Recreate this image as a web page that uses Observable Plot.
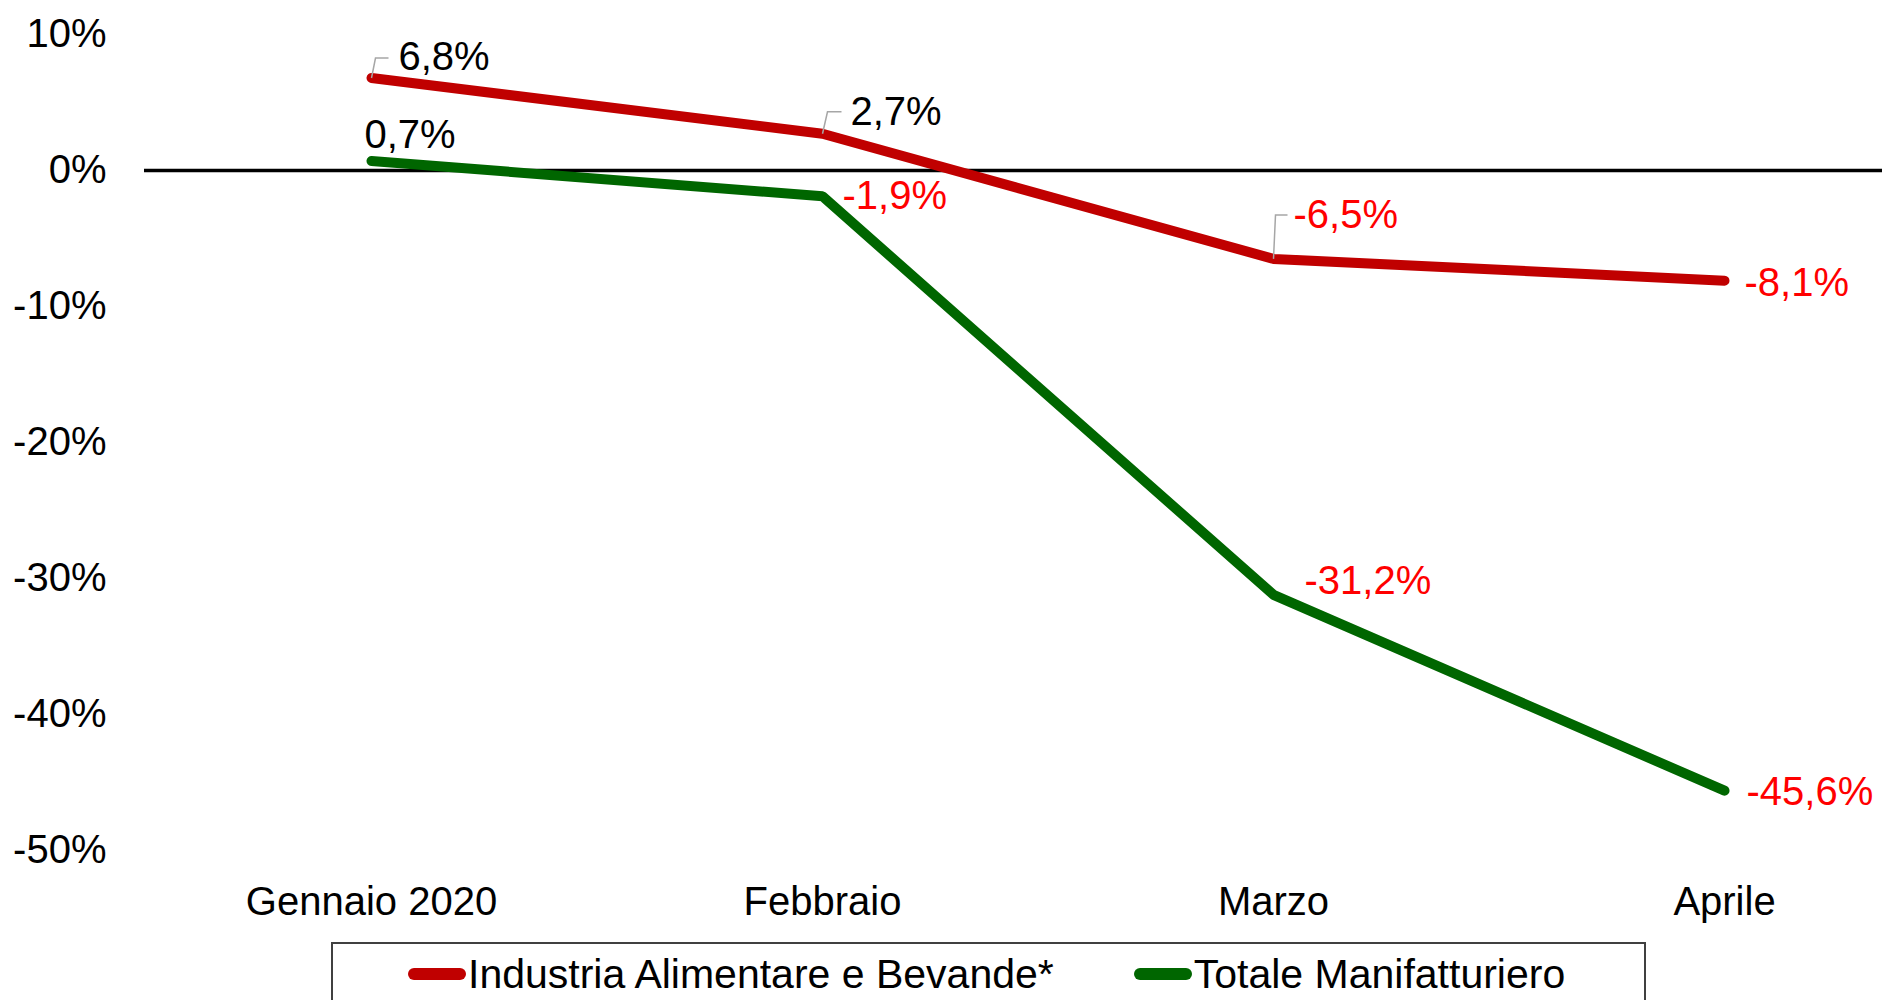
<!DOCTYPE html>
<html>
<head>
<meta charset="utf-8">
<script src="https://cdn.jsdelivr.net/npm/d3@7"></script>
<script src="https://cdn.jsdelivr.net/npm/@observablehq/plot@0.6"></script>
<style>
  html, body { margin: 0; padding: 0; background: #fff; overflow: hidden; }
  body { width: 1882px; height: 1000px; font-family: "Liberation Sans", Arial, sans-serif; }
  #chart svg { display: block; }
  #legend {
    box-sizing: border-box;
    margin-left: 331px; margin-top: 2px;
    width: 1315px; height: 90px;
    border: 2px solid #404040;
    display: flex; align-items: flex-start;
    padding-left: 75px; padding-top: 10px;
    gap: 80px;
    font-size: 41px; line-height: 40px; color: #000;
  }
  .item { display: flex; align-items: center; }
  .sw { width: 58px; height: 12px; border-radius: 6px; margin-right: 2px; }
</style>
</head>
<body>
<div id="chart"></div>
<div id="legend"></div>
<script>
const months = ["Gennaio 2020", "Febbraio", "Marzo", "Aprile"];
const seriesNames = ["Industria Alimentare e Bevande*", "Totale Manifatturiero"];
const industria = [6.8, 2.7, -6.5, -8.1];
const totale = [0.7, -1.9, -31.2, -45.6];
const yTicks = [10, 0, -10, -20, -30, -40, -50];
const lineColors = ["#C00000", "#006600"];

const data = [];
months.forEach((m, i) => data.push({series: seriesNames[0], month: m, value: industria[i]}));
months.forEach((m, i) => data.push({series: seriesNames[1], month: m, value: totale[i]}));

const fmt = v => v.toFixed(1).replace(".", ",") + "%";
const pick = (s, m) => data.filter(d => d.series === seriesNames[s] && d.month === months[m]);

function label(s, m, dx, dy, anchor = "start") {
  return Plot.text(pick(s, m), {
    x: "month", y: "value", text: d => fmt(d.value),
    fill: d => d.value < 0 ? "#FF0000" : "#000000",
    dx, dy, textAnchor: anchor, fontSize: 40
  });
}
function leader(s, m, h, slant, w) {
  const sym = {draw(ctx) { ctx.moveTo(0, 0); ctx.lineTo(slant, -h); ctx.lineTo(slant + w, -h); }};
  return Plot.dot(pick(s, m), {x: "month", y: "value", symbol: sym, fill: "none", stroke: "#A6A6A6", strokeWidth: 1.5});
}

const chart = Plot.plot({
  width: 1882, height: 940,
  marginLeft: 144, marginRight: 0, marginTop: 34, marginBottom: 90,
  style: {fontFamily: "'Liberation Sans', Arial, sans-serif", fontSize: "40px", color: "#000", background: "#fff"},
  x: {type: "point", domain: months, range: [371, 1724], padding: 0},
  y: {domain: [-50, 10]},
  color: {domain: seriesNames, range: lineColors},
  marks: [
    Plot.axisY({ticks: yTicks, tickFormat: d => d + "%", tickSize: 0, tickPadding: 38, label: null, fontSize: 40}),
    Plot.axisX({anchor: "bottom", tickSize: 0, tickPadding: 36, label: null, fontSize: 40}),
    Plot.ruleY([0], {stroke: "#000", strokeWidth: 3.5}),
    Plot.line(data, {x: "month", y: "value", z: "series", stroke: "series", strokeWidth: 10, strokeLinecap: "round", strokeLinejoin: "miter"}),
    leader(0, 0, 20, 4, 13),
    leader(0, 1, 22, 5, 14),
    leader(0, 2, 44, 2, 12),
    label(0, 0, 27, -21),
    label(0, 1, 28, -22),
    label(0, 2, 20, -44),
    label(0, 3, 20, 3),
    label(1, 0, -7, -26),
    label(1, 1, 20, 0),
    label(1, 2, 31, -14),
    label(1, 3, 22, 2)
  ]
});
document.getElementById("chart").appendChild(chart);

const legend = document.getElementById("legend");
seriesNames.forEach((name, i) => {
  const item = document.createElement("div");
  item.className = "item";
  const sw = document.createElement("div");
  sw.className = "sw";
  sw.style.background = lineColors[i];
  const t = document.createElement("span");
  t.textContent = name;
  item.appendChild(sw);
  item.appendChild(t);
  legend.appendChild(item);
});
</script>
</body>
</html>
